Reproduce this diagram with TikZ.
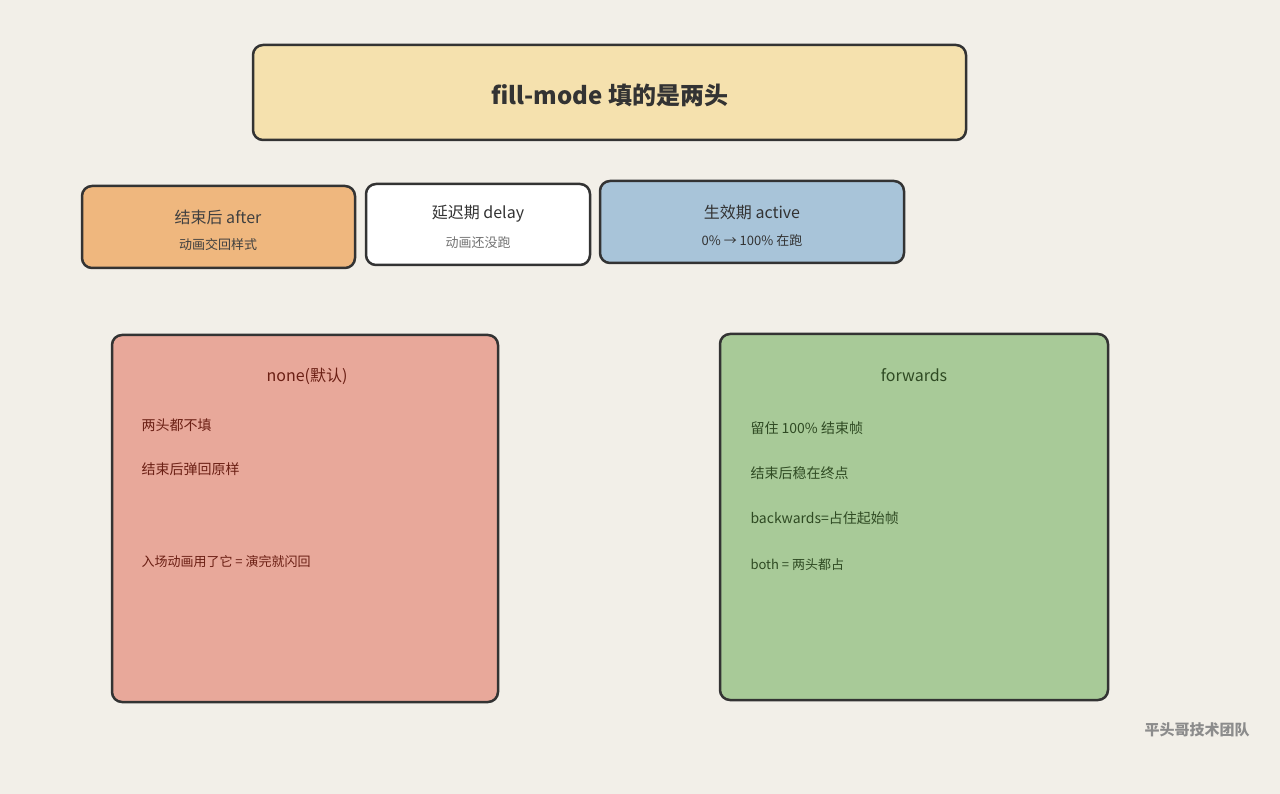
\documentclass[tikz,border=0pt]{standalone}
\usepackage{fontspec}
\setmainfont{Noto Sans CJK SC}
\begin{document}
\begin{tikzpicture}[x=1pt,y=-1pt,
  box/.style={draw=black!80,line width=2.5pt,rounded corners=10pt},
  t/.style={font=\fontsize{16}{18}\selectfont},
  s/.style={font=\fontsize{13}{15}\selectfont},
  l/.style={anchor=west,font=\fontsize{14}{16}\selectfont}]
\definecolor{bg}{HTML}{F2EFE8}
\definecolor{ttl}{HTML}{F5E1AE}
\definecolor{aft}{HTML}{EFB77E}
\definecolor{act}{HTML}{A8C4D9}
\definecolor{non}{HTML}{E8A89A}
\definecolor{fwd}{HTML}{A8CA98}
\definecolor{nt}{HTML}{6B1F14}
\definecolor{ft}{HTML}{2F4A23}
\fill[bg] (0,0) rectangle (1280,794);
\useasboundingbox (0,0) rectangle (1280,794);
\draw[box,fill=ttl] (253,45) rectangle (966,140);
\node[font=\fontsize{24}{28}\selectfont\bfseries,text=black!80] (title) at (610,95) {fill-mode 填的是两头};
\draw[box,fill=aft] (82,186) rectangle (355,268);
\node[t,text=black!75] (a1) at (218,217) {结束后 after};
\node[s,text=black!75] (a2) at (218,245) {动画交回样式};
\draw[box,fill=white] (366,184) rectangle (590,265);
\node[t,text=black!80] (d1) at (478,214) {延迟期 delay};
\node[s,text=black!55] (d2) at (478,243) {动画还没跑};
\draw[box,fill=act] (600,181) rectangle (904,263);
\node[t,text=black!80] (c1) at (752,212) {生效期 active};
\node[s,text=black!80] (c2) at (752,241) {0\% → 100\% 在跑};
\draw[box,fill=non] (112,335) rectangle (498,702);
\node[t,text=nt] (n0) at (307,376) {none(默认)};
\node[l,text=nt] (n1) at (138,425) {两头都不填};
\node[l,text=nt] (n2) at (138,469) {结束后弹回原样};
\node[l,text=nt,font=\fontsize{13}{15}\selectfont] (n3) at (138,562) {入场动画用了它 = 演完就闪回};
\draw[box,fill=fwd] (720,334) rectangle (1108,700);
\node[t,text=ft] (f0) at (914,375) {forwards};
\node[l,text=ft] (f1) at (747,428) {留住 100\% 结束帧};
\node[l,text=ft] (f2) at (747,473) {结束后稳在终点};
\node[l,text=ft] (f3) at (747,518) {backwards=占住起始帧};
\node[l,text=ft,font=\fontsize{13}{15}\selectfont] (f4) at (747,565) {both = 两头都占};
\node[font=\fontsize{15}{17}\selectfont\bfseries,text=black!45] (wm) at (1197,730) {平头哥技术团队};
\end{tikzpicture}
\end{document}
